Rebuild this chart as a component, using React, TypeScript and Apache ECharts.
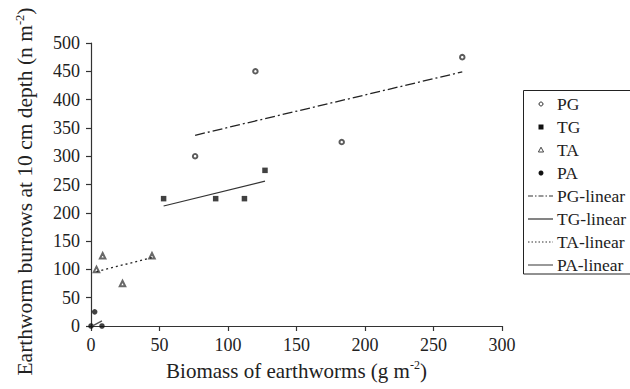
import React, { useEffect, useRef } from "react";
import * as echarts from "echarts";

const FONT = '"Liberation Serif", "Times New Roman", serif';
const INK = "#222";

// Observed data (biomass g m^-2, burrows n m^-2)
const pgPoints: [number, number][] = [[76, 300], [120, 450], [183, 325], [271, 475]];
const tgPoints: [number, number][] = [[53, 225], [91, 225], [112, 225], [127, 275]];
const taPoints: [number, number][] = [[4, 100], [8.5, 124], [23, 75], [44.5, 124]];
const paPoints: [number, number][] = [[0, 0], [2.7, 25], [8, 0]];

// Linear trend lines (end points)
const pgLinear: [number, number][] = [[76, 337], [271, 449]];
const tgLinear: [number, number][] = [[53, 212], [127, 256]];
const taLinear: [number, number][] = [[4, 96], [44.5, 121]];
const paLinear: [number, number][] = [[1.5, 0.5], [8, 9]];

const seriesNames = ["PG", "TG", "TA", "PA", "PG-linear", "TG-linear", "TA-linear", "PA-linear"];

const xTitle = "{a|Biomass of earthworms (g m}{s|-2}{a|)}";
const yTitle = "{a|Earthworm burrows at 10 cm depth (n m}{s|-2}{a|)}";

const xRich = {
  a: { fontSize: 21, fontFamily: FONT, color: INK, lineHeight: 24 },
  s: { fontSize: 12, fontFamily: FONT, color: INK, lineHeight: 14, verticalAlign: "top" },
};
const yRich = {
  a: { fontSize: 21.5, fontFamily: FONT, color: INK, lineHeight: 24 },
  s: { fontSize: 12.5, fontFamily: FONT, color: INK, lineHeight: 14, verticalAlign: "top" },
};

function buildLegend() {
  const left = 523.5;
  const top = 90.5;
  const rowTop = 104;
  const rowGap = 23;
  const iconX1 = 528;
  const iconX2 = 553;
  const iconCx = 541;
  const textX = 557;
  const children: any[] = [
    {
      type: "rect",
      shape: { x: left, y: top, width: 130, height: 183.5 },
      style: { fill: "#fff", stroke: "#222", lineWidth: 1 },
    },
  ];
  seriesNames.forEach((name, i) => {
    const cy = rowTop + i * rowGap;
    if (i === 0) {
      children.push({ type: "circle", shape: { cx: iconCx, cy, r: 2 }, style: { fill: "#fff", stroke: "#333", lineWidth: 1 } });
    } else if (i === 1) {
      children.push({ type: "rect", shape: { x: iconCx - 2.5, y: cy - 2.5, width: 5, height: 5 }, style: { fill: "#111" } });
    } else if (i === 2) {
      children.push({
        type: "polygon",
        shape: { points: [[iconCx, cy - 2.8], [iconCx + 2.6, cy + 2], [iconCx - 2.6, cy + 2]] },
        style: { fill: "#fff", stroke: "#444", lineWidth: 1 },
      });
    } else if (i === 3) {
      children.push({ type: "circle", shape: { cx: iconCx, cy, r: 2.5 }, style: { fill: "#111" } });
    } else {
      const dash = i === 4 ? [5, 2, 1.5, 2] : i === 6 ? [1.5, 2] : null;
      children.push({
        type: "line",
        shape: { x1: iconX1, y1: cy, x2: iconX2, y2: cy },
        style: { stroke: i === 7 ? "#555" : "#333", lineWidth: 1.2, lineDash: dash },
      });
    }
    children.push({
      type: "text",
      x: textX,
      y: cy,
      style: { text: name, fontSize: 17.5, fontFamily: FONT, fill: INK, align: "left", verticalAlign: "middle" },
    });
  });
  return [{ type: "group", children }];
}

export default function App() {
  const ref = useRef<HTMLDivElement>(null);
  useEffect(() => {
    if (!ref.current) return;
    const chart = echarts.init(ref.current, null, { renderer: "svg" });
    const axisCommon = {
      type: "value" as const,
      splitLine: { show: false },
      axisLine: { show: true, lineStyle: { color: "#333", width: 1.2 } },
      axisTick: { show: true, inside: false, length: 5, lineStyle: { color: "#333", width: 1.2 } },
    };
    chart.setOption({
      animation: false,
      backgroundColor: "#fff",
      grid: { left: 91, right: 128, top: 43, bottom: 63, outerBoundsMode: "none" },
      xAxis: {
        ...axisCommon,
        min: 0,
        max: 300,
        interval: 50,
        axisLabel: { fontSize: 18, fontFamily: FONT, color: INK, margin: 10 },
        name: xTitle,
        nameLocation: "middle",
        nameGap: 32,
        nameTextStyle: { rich: xRich },
      },
      yAxis: {
        ...axisCommon,
        min: 0,
        max: 500,
        interval: 50,
        axisLabel: { fontSize: 18, fontFamily: FONT, color: INK, margin: 11 },
        name: yTitle,
        nameLocation: "middle",
        nameGap: 54,
        nameTextStyle: { rich: yRich, padding: [0, 14, 0, 0] },
      },
      graphic: buildLegend(),
      series: [
        {
          name: seriesNames[0], type: "scatter", data: pgPoints, symbol: "emptyCircle", symbolSize: 4.5,
          itemStyle: { color: "#333", borderColor: "#333", borderWidth: 1 },
        },
        {
          name: seriesNames[1], type: "scatter", data: tgPoints, symbol: "rect", symbolSize: 5.5,
          itemStyle: { color: "#111" },
        },
        {
          name: seriesNames[2], type: "scatter", data: taPoints, symbol: "emptyTriangle", symbolSize: 5.5,
          itemStyle: { color: "#444", borderColor: "#444", borderWidth: 1 },
        },
        {
          name: seriesNames[3], type: "scatter", data: paPoints, symbol: "circle", symbolSize: 5.5,
          itemStyle: { color: "#111" },
        },
        {
          name: seriesNames[4], type: "line", data: pgLinear, symbol: "none",
          lineStyle: { color: "#222", width: 1.3, type: [10, 3, 2, 3] },
        },
        {
          name: seriesNames[5], type: "line", data: tgLinear, symbol: "none",
          lineStyle: { color: "#333", width: 1.2, type: "solid" },
        },
        {
          name: seriesNames[6], type: "line", data: taLinear, symbol: "none",
          lineStyle: { color: "#222", width: 1.3, type: [2, 3] },
        },
        {
          name: seriesNames[7], type: "line", data: paLinear, symbol: "none",
          lineStyle: { color: "#555", width: 1.4, type: "solid" },
        },
      ],
    });
    return () => chart.dispose();
  }, []);
  return <div ref={ref} style={{ width: 630, height: 389, position: "absolute", left: 0, top: 0 }} />;
}
